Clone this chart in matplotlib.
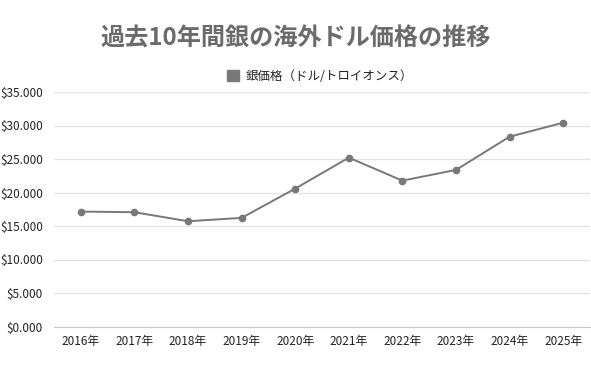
import matplotlib
matplotlib.use('Agg')
import matplotlib.pyplot as plt
from matplotlib.ticker import FuncFormatter
from matplotlib.patches import Patch

plt.rcParams['font.family'] = ['Noto Sans CJK JP', 'DejaVu Sans']

# data (USD per troy ounce)
years = ['2016年', '2017年', '2018年', '2019年', '2020年',
         '2021年', '2022年', '2023年', '2024年', '2025年']
price = [17.15, 17.06, 15.71, 16.21, 20.58, 25.20, 21.77, 23.37, 28.33, 30.42]
yticks = [0, 5, 10, 15, 20, 25, 30, 35]

title = '過去10年間銀の海外ドル価格の推移'
series_label = '銀価格（ドル/トロイオンス）'

col_line = '#787878'
col_grid = '#e3e3e3'
col_text = '#222222'

F1 = plt.figure(figsize=(5.91, 3.79), dpi=100)
ax = F1.add_axes([54/591, 1 - 326.5/379, 536/591, 234.5/379])

x = list(range(len(years)))
ax.plot(x, price, '-o', color=col_line, linewidth=1.4, markersize=4.5)

ax.set_xlim(-0.5, len(years) - 0.5)
ax.set_ylim(0, 35)
ax.set_yticks(yticks)
ax.yaxis.set_major_formatter(FuncFormatter(lambda v, p: '$%.3f' % v))
ax.set_xticks(x)
ax.set_xticklabels(years)

ax.grid(axis='y', color=col_grid, linewidth=0.9)
ax.set_axisbelow(True)
for s in ['top', 'right', 'left']:
    ax.spines[s].set_visible(False)
ax.spines['bottom'].set_color('#c8c8c8')
ax.tick_params(length=0, labelsize=8.5, colors=col_text)
ax.tick_params(axis='x', pad=6)
ax.tick_params(axis='y', pad=8)

F1.text(0.5, 1 - 39/379, title, ha='center', va='center', fontsize=17.4,
        fontweight='bold', color='#6b6b6b')

F1.legend(handles=[Patch(color=col_line, label=series_label)], loc='center',
          bbox_to_anchor=(320/591, 1 - 76/379), frameon=False,
          handlelength=1.0, handleheight=1.0, handletextpad=0.5, fontsize=9,
          labelcolor=col_text)

F1.savefig('out.png', dpi=100, facecolor='white')
